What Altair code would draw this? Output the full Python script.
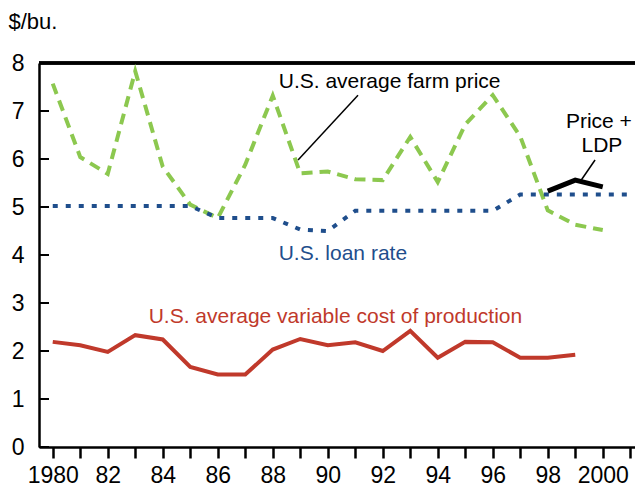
import altair as alt
import pandas as pd

years = list(range(1980, 2001))
farm_price = [7.57, 6.04, 5.69, 7.83, 5.84, 5.05, 4.77, 5.88, 7.32, 5.70, 5.74, 5.58, 5.56,
              6.46, 5.52, 6.72, 7.33, 6.47, 4.93, 4.63, 4.52]
loan_years = list(range(1980, 2002))
loan_rate = [5.02, 5.02, 5.02, 5.02, 5.02, 5.02, 4.77, 4.77, 4.77, 4.53, 4.50, 4.92, 4.92,
             4.92, 4.92, 4.92, 4.92, 5.26, 5.26, 5.26, 5.26, 5.26]
cost_years = list(range(1980, 2000))
var_cost = [2.19, 2.12, 1.98, 2.33, 2.24, 1.67, 1.51, 1.51, 2.03, 2.25, 2.12, 2.18, 2.00,
            2.42, 1.86, 2.19, 2.18, 1.86, 1.86, 1.92]
ldp_years = [1998, 1999, 2000]
price_ldp = [5.33, 5.56, 5.42]
y_ticks = [0, 1, 2, 3, 4, 5, 6, 7, 8]
x_ticks = list(range(1980, 2002))

# annotation texts and anchor points (data coordinates)
ann_text = ["U.S. average farm price", "U.S. loan rate",
            "U.S. average variable cost of production", "Price +", "LDP"]
ann_year = [1992.25, 1990.55, 1990.28, 1999.86, 1999.97]
ann_value = [7.47, 3.90, 2.58, 6.64, 6.15]
ann_color = ["#000000", "#1f4e8c", "#c0392b", "#000000", "#000000"]
lead_year = [1988.92, 1999.72]
lead_value = [5.98, 5.98]
lead_year2 = [1991.10, 1999.17]
lead_value2 = [7.33, 5.52]

W, H = 596, 384
FONT = "Liberation Sans"

xscale = alt.Scale(domain=[1979.5, 1979.5 + W / 27.5], nice=False, zero=False)
yscale = alt.Scale(domain=[0, 8], nice=False)

X = alt.X("year:Q", scale=xscale,
          axis=alt.Axis(values=x_ticks, title=None, grid=False, format="d",
                        labelExpr="datum.value == 1980 || datum.value == 2000 ? datum.label : (datum.value % 2 == 0 ? slice(datum.label, 2) : '')",
                        tickSize=11, tickWidth=2.5, tickColor="black",
                        domainColor="black", domainWidth=2.5,
                        labelFont=FONT, labelFontSize=23, labelColor="black",
                        labelPadding=6, labelFlush=False, labelOverlap=False))
Y = alt.Y("value:Q", scale=yscale,
          axis=alt.Axis(values=y_ticks, title="$/bu.", titleAngle=0, titleX=-31, titleY=-35,
                        titleAlign="left", titleBaseline="alphabetic", titleFont=FONT,
                        titleFontSize=22, titleFontWeight="normal", titleColor="black",
                        grid=False, ticks=False, domainColor="black", domainWidth=2.5,
                        labelFont=FONT, labelFontSize=23, labelColor="black",
                        labelPadding=15, labelFlush=False, labelOverlap=False))

df_price = pd.DataFrame({"year": years, "value": farm_price})
df_loan = pd.DataFrame({"year": loan_years, "value": loan_rate})
df_cost = pd.DataFrame({"year": cost_years, "value": var_cost})
df_ldp = pd.DataFrame({"year": ldp_years, "value": price_ldp})
df_ticks = pd.DataFrame({"value": y_ticks})
df_ann = pd.DataFrame({"year": ann_year, "value": ann_value, "text": ann_text, "color": ann_color})
df_lead = pd.DataFrame({"year": lead_year, "value": lead_value, "year2": lead_year2, "value2": lead_value2})

price = alt.Chart(df_price).mark_line(color="#8cc84f", strokeWidth=4, strokeDash=[11, 7]).encode(x=X, y=Y)
loan = alt.Chart(df_loan).mark_line(color="#1f4e8c", strokeWidth=4, strokeDash=[5, 8]).encode(x=X, y=Y)
cost = alt.Chart(df_cost).mark_line(color="#c0392b", strokeWidth=4).encode(x=X, y=Y)
ldp = alt.Chart(df_ldp).mark_line(color="black", strokeWidth=5).encode(x=X, y=Y)

ticks = alt.Chart(df_ticks).mark_rule(color="black", strokeWidth=2).encode(
    y=Y, x=alt.value(0), x2=alt.value(10))
top = alt.Chart(df_ticks).mark_rule(color="black", strokeWidth=2.5).encode(
    y=alt.value(0), x=alt.value(0), x2=alt.value(W))

texts = alt.Chart(df_ann).mark_text(font=FONT, fontSize=21, align="center", baseline="alphabetic").encode(
    x=X, y=Y, text="text:N", color=alt.Color("color:N", scale=None))
leads = alt.Chart(df_lead).mark_rule(color="black", strokeWidth=1.5).encode(
    x=X, y=Y, x2="year2:Q", y2="value2:Q")

chart = alt.layer(ticks, top, price, loan, cost, ldp, leads, texts).properties(
    width=W, height=H,
    autosize=alt.AutoSizeParams(type="none"),
    padding={"left": 31, "top": 55, "right": 0, "bottom": 40},
).configure_view(stroke=None).configure(background="white")

chart.save("out.html", embed_options={"renderer": "svg", "actions": False})
